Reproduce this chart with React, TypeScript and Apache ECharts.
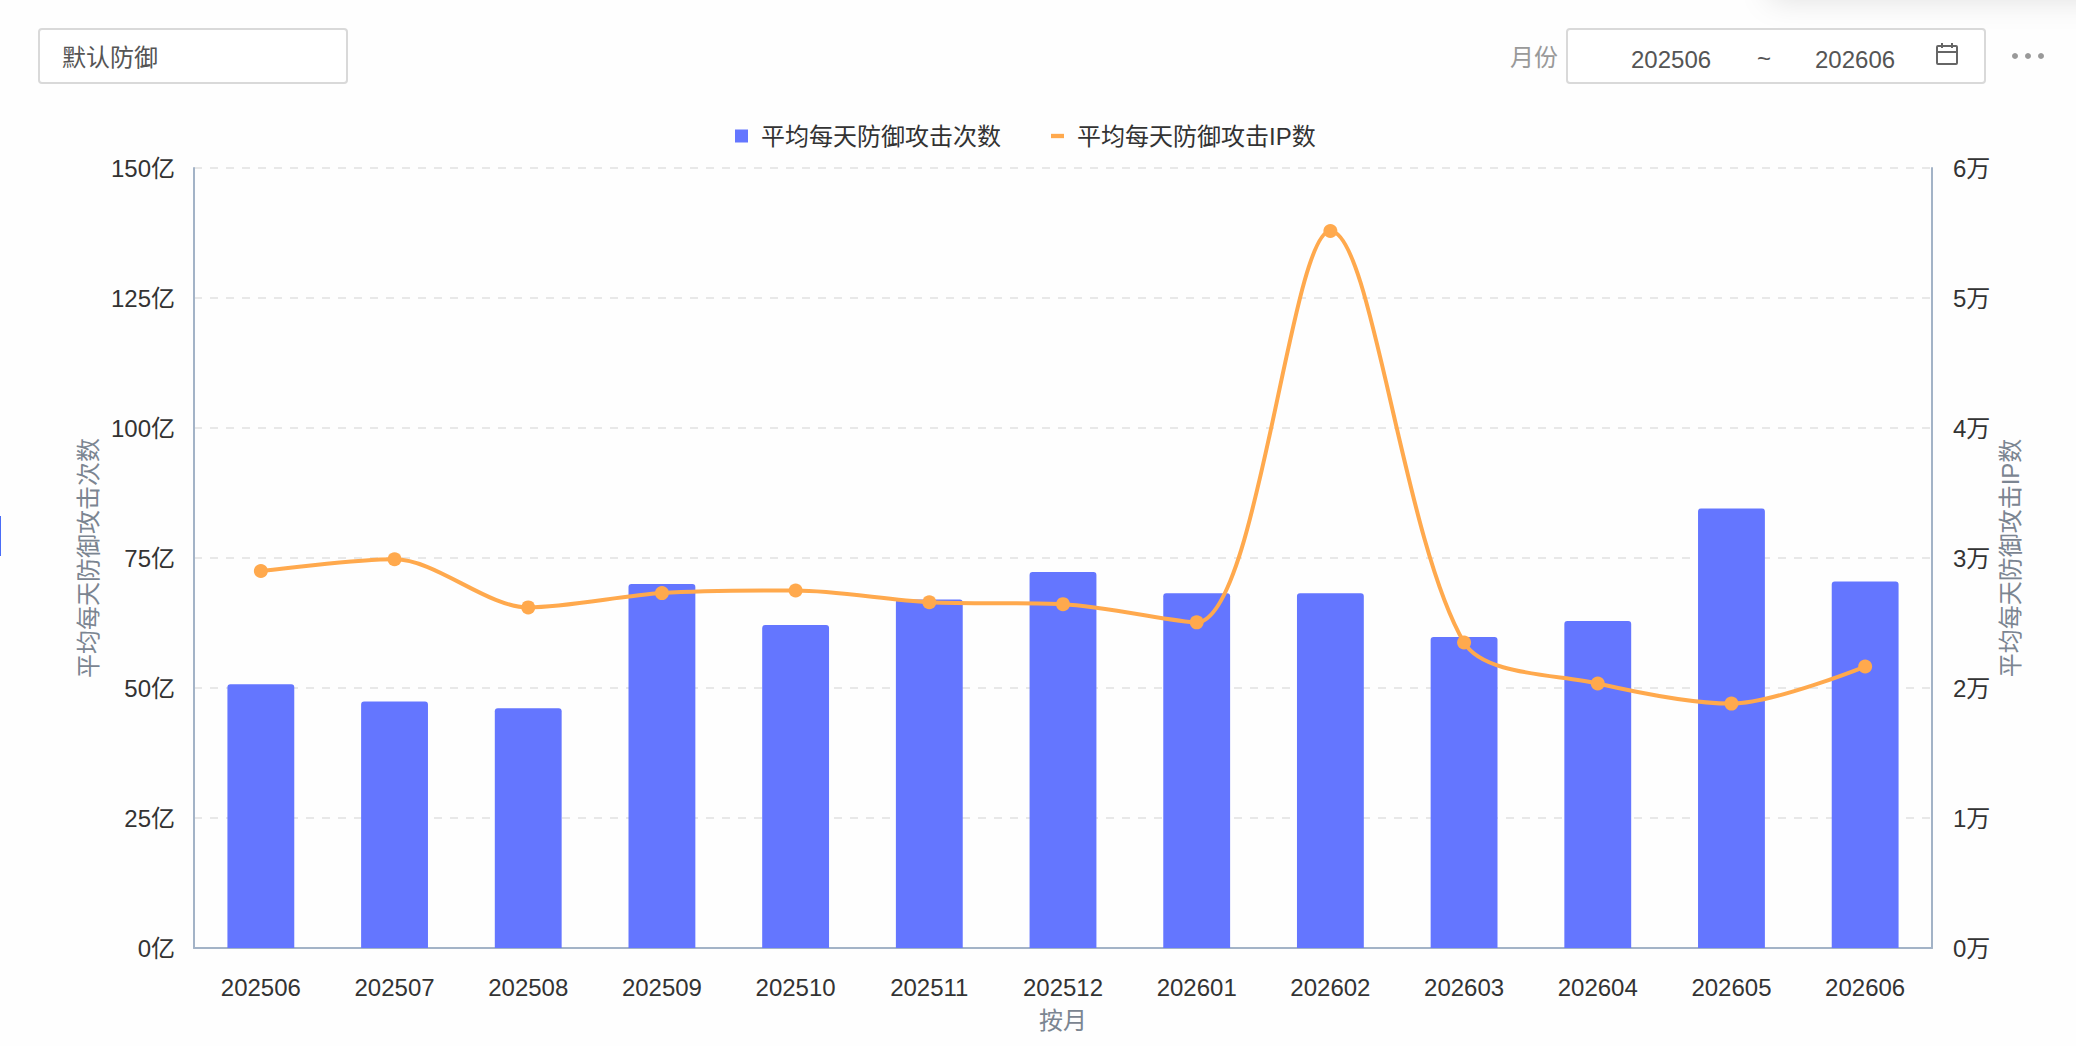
import React, { useEffect, useRef } from "react";
import * as echarts from "echarts";

const months = ["202506","202507","202508","202509","202510","202511","202512","202601","202602","202603","202604","202605","202606"];
const attackCounts = [50.7,47.4,46.1,70,62.1,67,72.3,68.2,68.2,59.8,62.9,84.5,70.5];
const attackIps = [2.9,2.99,2.62,2.73,2.75,2.66,2.645,2.505,5.515,2.35,2.035,1.88,2.165];
const barName = "平均每天防御攻击次数";
const lineName = "平均每天防御攻击IP数";
const FONT = '"Liberation Sans","Noto Sans CJK SC",sans-serif';

export default function App() {
  const ref = useRef<HTMLDivElement>(null);
  useEffect(() => {
    const chart = echarts.init(ref.current!, undefined, { renderer: "svg" });
    const box = (x: number, w: number) => ({
      type: "rect", shape: { x, y: 29, width: w, height: 54, r: 3 },
      style: { fill: "#fff", stroke: "#d9d9d9", lineWidth: 2 },
    });
    const txt = (x: number, text: string, fill: string, y = 57) => ({
      type: "text", x, y, style: { text, fill, font: `24px ${FONT}`, textVerticalAlign: "middle" },
    });
    chart.setOption({
      animation: false,
      backgroundColor: "#fefefe",
      textStyle: { fontFamily: FONT },
      grid: { left: 194, right: 144, top: 168, bottom: 98 },
      legend: {
        left: 730, top: 119, itemGap: 50, itemWidth: 13, itemHeight: 13,
        textStyle: { fontSize: 24, color: "#333", padding: [0, 0, 0, 8], fontFamily: FONT },
        data: [
          { name: barName, icon: "rect" },
          { name: lineName, icon: "path://M0 0H12V4H0Z" },
        ],
      },
      xAxis: {
        type: "category", data: months,
        name: "按月", nameLocation: "middle", nameGap: 60,
        nameTextStyle: { fontSize: 24, color: "#7b8591", fontFamily: FONT },
        axisLine: { lineStyle: { color: "#a3b3c7", width: 2 } },
        axisTick: { alignWithLabel: true, length: 9, lineStyle: { color: "#c8c8c8", width: 2 } },
        axisLabel: { fontSize: 24, color: "#333", margin: 27, fontFamily: FONT },
      },
      yAxis: [
        {
          type: "value", min: 0, max: 150, interval: 25,
          name: barName, nameLocation: "middle", nameGap: 93, nameRotate: 90,
          nameTextStyle: { fontSize: 24, color: "#7b8591", fontFamily: FONT },
          axisLine: { show: true, lineStyle: { color: "#a3b3c7", width: 2 } },
          axisTick: { show: false },
          axisLabel: { fontSize: 24, color: "#333", margin: 19, formatter: "{value}亿", fontFamily: FONT },
          splitLine: { lineStyle: { color: "#e8e8e8", type: [8, 8], width: 2 } },
        },
        {
          type: "value", min: 0, max: 6, interval: 1,
          name: lineName, nameLocation: "middle", nameGap: 66, nameRotate: 90, nameMoveOverlap: false,
          nameTextStyle: { fontSize: 24, color: "#7b8591", fontFamily: FONT },
          axisLine: { show: true, lineStyle: { color: "#a3b3c7", width: 2 } },
          axisTick: { show: false },
          axisLabel: { fontSize: 24, color: "#333", margin: 21, formatter: "{value}万", fontFamily: FONT },
          splitLine: { show: false },
        },
      ],
      series: [
        { name: barName, type: "bar", barWidth: "50%", data: attackCounts, itemStyle: { color: "#6476ff", borderRadius: [3, 3, 0, 0] } },
        {
          name: lineName, type: "line", yAxisIndex: 1, smooth: 0.3, data: attackIps,
          symbol: "circle", symbolSize: 14, showSymbol: true,
          lineStyle: { color: "#ffa94d", width: 4 }, itemStyle: { color: "#ffa94d" },
        },
      ],
      graphic: [
        { type: "rect", shape: { x: 1770, y: -40, width: 400, height: 40 }, style: { fill: "#fff", shadowBlur: 30, shadowColor: "rgba(0,0,0,0.12)" } },
        box(39, 308), txt(62, "默认防御", "#555"),
        txt(1510, "月份", "#999"),
        box(1567, 418), txt(1631, "202506", "#555", 59), txt(1757, "~", "#555", 58), txt(1815, "202606", "#555", 59),
        { type: "rect", shape: { x: 1937, y: 46, width: 20, height: 18, r: 1 }, style: { fill: "none", stroke: "#666", lineWidth: 2 } },
        { type: "line", shape: { x1: 1937, y1: 52, x2: 1957, y2: 52 }, style: { stroke: "#666", lineWidth: 2 } },
        { type: "line", shape: { x1: 1942, y1: 43, x2: 1942, y2: 48 }, style: { stroke: "#666", lineWidth: 2 } },
        { type: "line", shape: { x1: 1952, y1: 43, x2: 1952, y2: 48 }, style: { stroke: "#666", lineWidth: 2 } },
        { type: "circle", shape: { cx: 2015, cy: 56, r: 3 }, style: { fill: "#999" } },
        { type: "circle", shape: { cx: 2028, cy: 56, r: 3 }, style: { fill: "#999" } },
        { type: "circle", shape: { cx: 2041, cy: 56, r: 3 }, style: { fill: "#999" } },
        { type: "rect", shape: { x: 0, y: 516, width: 1, height: 40 }, style: { fill: "#4a6cf7" } },
      ],
    });
    return () => chart.dispose();
  }, []);
  return <div ref={ref} style={{ position: "absolute", left: 0, top: 0, width: 2076, height: 1046 }} />;
}
